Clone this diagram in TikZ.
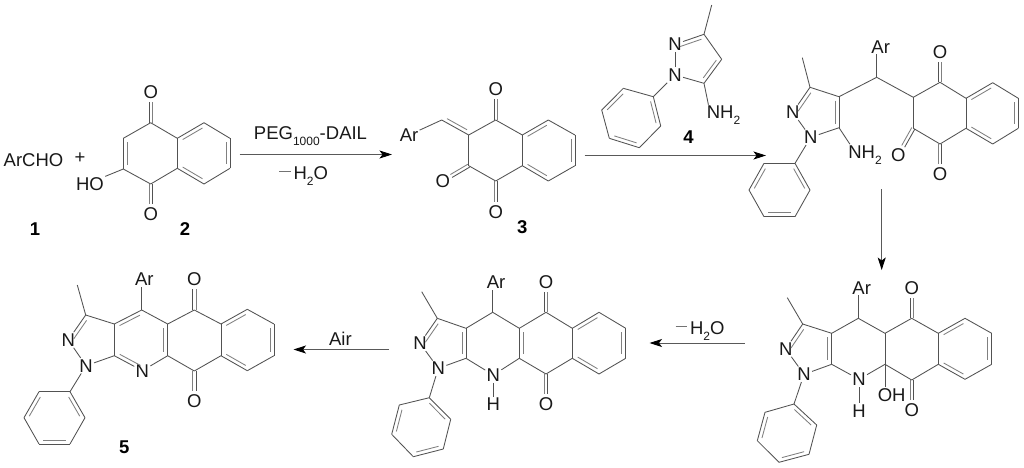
\documentclass[tikz,border=0pt]{standalone}
\usepackage{fontspec}
\setmainfont{Liberation Sans}
\usetikzlibrary{calc,arrows.meta}
\tikzset{
  bond/.style={line width=0.85pt,draw=black!68},
  inbond/.style={line width=0.85pt,draw=black!50},
  atom/.style={inner sep=1.2pt,text=black!90,font=\fontsize{18.5}{21}\selectfont},
  cpd/.style={inner sep=1pt,font=\fontsize{18.5}{21}\selectfont\bfseries},
  lbl/.style={inner sep=0pt,text=black!90,font=\fontsize{18.5}{21}\selectfont},
  rxn/.style={line width=0.85pt,draw=black!65,-{Stealth[length=12.5pt,width=8pt,inset=3pt,color=black]}}
}
\newcommand{\Sb}[1]{\raisebox{-0.33em}{\fontsize{12}{13}\selectfont #1}}
\newcommand{\Mn}{\textcolor{black!55}{\rule[0.42em]{11.5pt}{0.7pt}}\hspace{3pt}}
% atom without label / with label
\newcommand{\A}[3]{\coordinate (#1) at (#2,#3);}
\newcommand{\T}[4]{\node[atom] (#1) at (#2,#3) {#4};}
% single bonds
\newcommand{\B}[1]{\foreach \u/\v in {#1} {\draw[bond] (\u) -- (\v);}}
% inner line of a double bond a-b, on the side of c
\newcommand{\Inn}[3]{%
  \path ($(#1)!.13!(#2)$) coordinate (pp) ($(#1)!.87!(#2)$) coordinate (qq)
        ($(#1)!(#3)!(#2)$) coordinate (pr);
  \path ($(pr)!3.8pt!(#3)$) coordinate (off);
  \draw[inbond] ($(pp)+(off)-(pr)$) -- ($(qq)+(off)-(pr)$);}
% symmetric double bond C=O, from atom to label
\newcommand{\CO}[2]{%
  \path ($(#1)!1.7pt!90:(#2)$) coordinate (pp) ($(#1)!1.7pt!-90:(#2)$) coordinate (qq);
  \draw[bond,shorten >=10pt] (pp) -- ($(pp)+(#2)-(#1)$);
  \draw[inbond,shorten >=10pt] (qq) -- ($(qq)+(#2)-(#1)$);}
\begin{document}
\begin{tikzpicture}[x=1pt,y=-1pt]
\useasboundingbox (0,0) rectangle (1024,467);
\fill[white] (0,0) rectangle (1024,467);

% ---------- 1 and 2
\node[lbl] (archo) at (33.5,160.5) {ArCHO};
\node[lbl] (plus) at (80,158.5) {+};
\node[cpd] (c1) at (35,229.5) {1};
\node[cpd] (c2) at (185,229.5) {2};
\A{a1}{150.7}{122.7}\A{a2}{177.3}{138.3}\A{a3}{177.3}{168.3}\A{a4}{150.7}{184}\A{a5}{123.3}{169}\A{a6}{123.3}{138.3}
\A{a7}{204}{122.7}\A{a8}{230}{138.3}\A{a9}{230}{168.3}\A{a10}{204}{184}
\T{ao1}{150.7}{92.3}{O}\T{ao2}{150.7}{214.3}{O}\T{aho}{90}{184.3}{HO}
\B{a1/a2,a2/a3,a3/a4,a4/a5,a5/a6,a6/a1,a2/a7,a7/a8,a8/a9,a9/a10,a10/a3}
\draw[bond] (a5) -- (aho.north east);
\Inn{a5}{a6}{a2}\Inn{a2}{a7}{a9}\Inn{a8}{a9}{a2}\Inn{a10}{a3}{a8}
\CO{a1}{ao1}\CO{a4}{ao2}

% ---------- 3
\A{b1}{495.7}{120}\A{b2}{522.3}{135}\A{b3}{522.3}{165.7}\A{b4}{495.7}{181}\A{b5}{468.7}{165.7}\A{b6}{468.7}{135}
\A{b7}{548.3}{120}\A{b8}{575}{135}\A{b9}{575}{165.7}\A{b10}{548.3}{181}\A{bch}{441.7}{120}
\A{bup}{460}{100}
\T{bar}{409}{135}{Ar}\T{bo1}{495.7}{89.3}{O}\T{bo2}{495.7}{211.7}{O}\T{bo3}{442.7}{181}{O}
\node[cpd] (c3) at (522.3,227.5) {3};
\B{b1/b2,b2/b3,b3/b4,b4/b5,b5/b6,b6/b1,b2/b7,b7/b8,b8/b9,b9/b10,b10/b3,b6/bch,bch/bar}
\Inn{b6}{bch}{bup}\Inn{b2}{b7}{b9}\Inn{b8}{b9}{b2}\Inn{b10}{b3}{b8}
\CO{b1}{bo1}\CO{b4}{bo2}\CO{b5}{bo3}

% ---------- 4
\A{d1}{711.7}{5}\A{d3}{704}{34.3}\A{d4}{721.7}{59.3}\A{d5}{704}{83.3}
\T{dn1}{675}{75}{N}\T{dn2}{675}{44.3}{N}
\node[atom] (dnh) at (723.5,115.5) {NH\Sb{2}};
\A{dp1}{653.3}{96.7}\A{dp2}{623.3}{88.3}\A{dp3}{601.7}{110}\A{dp4}{609.3}{138.3}\A{dp5}{639.3}{147.7}\A{dp6}{660.7}{126}
\node[cpd] (c4) at (688.5,136.7) {4};
\B{d1/d3,d3/d4,d4/d5,d5/dn1,dn1/dn2,dn2/d3,dn1/dp1,dp1/dp2,dp2/dp3,dp3/dp4,dp4/dp5,dp5/dp6,dp6/dp1}
\draw[bond] (d5) -- ([xshift=3pt]dnh.north west);
\Inn{dn2}{d3}{d4}\Inn{d4}{d5}{d3}\Inn{dp2}{dp3}{dp5}\Inn{dp4}{dp5}{dp2}\Inn{dp6}{dp1}{dp3}

% ---------- adduct (top right)
\A{e1}{802.3}{57.7}\A{e3}{810}{87.3}\A{e4}{839}{96.7}\A{e5}{839}{127.7}\T{en1}{810.7}{137.3}{N}\T{en2}{792.7}{112.3}{N}
\node[atom] (enh) at (865,155) {NH\Sb{2}};
\A{ech}{876.7}{77.3}\T{ear}{880.7}{46.7}{Ar}
\A{f1}{913.3}{97.3}\A{f2}{940}{82.3}\A{f3}{966}{98.3}\A{f4}{966}{128.3}\A{f5}{940}{144}\A{f6}{913.3}{128.3}
\A{f7}{992.7}{82.7}\A{f8}{1018.3}{98.3}\A{f9}{1018.3}{128.3}\A{f10}{992.7}{144}
\T{eo1}{940}{52.3}{O}\T{eo2}{940}{174.3}{O}\T{eo3}{898.3}{155}{O}
\A{ep1}{795}{163.3}\A{ep2}{764}{163.3}\A{ep3}{749}{190}\A{ep4}{764}{216.7}\A{ep5}{795}{216.7}\A{ep6}{810}{190}
\B{e1/e3,e3/e4,e4/e5,e5/en1,en1/en2,en2/e3,en1/ep1,ep1/ep2,ep2/ep3,ep3/ep4,ep4/ep5,ep5/ep6,ep6/ep1,e4/ech,ech/f1,f1/f2,f2/f3,f3/f4,f4/f5,f5/f6,f6/f1,f3/f7,f7/f8,f8/f9,f9/f10,f10/f4}
\draw[bond] (e5) -- ([xshift=3pt]enh.north west);
\draw[bond] (ech) -- (ech |- ear.south);
\Inn{en2}{e3}{e4}\Inn{e4}{e5}{e3}\Inn{ep2}{ep3}{ep5}\Inn{ep4}{ep5}{ep2}\Inn{ep6}{ep1}{ep3}
\Inn{f3}{f7}{f9}\Inn{f8}{f9}{f3}\Inn{f10}{f4}{f8}
\CO{f2}{eo1}\CO{f5}{eo2}\CO{f6}{eo3}

% ---------- hydroxy intermediate (bottom right)
\A{g1}{787.3}{297.7}\A{g3}{802.7}{324}\A{g3a}{831.7}{333.3}\A{g7a}{831.7}{364.3}\T{gn1}{804}{374.3}{N}\T{gn2}{785.7}{349}{N}
\T{gnh}{859}{379.3}{N}\T{gh}{859}{410.7}{H}\A{g4}{858.3}{318.3}\T{gar}{861.7}{287.7}{Ar}
\A{g4a}{885}{333.3}\A{g8a}{885}{364.3}\A{g5}{911.7}{318.3}\T{go1}{911.7}{287.7}{O}\A{g8}{911.7}{380}\T{go2}{911.7}{410}{O}
\T{goh}{891.7}{395}{OH}
\A{gj1}{938.3}{333.3}\A{gj2}{938.3}{364.3}\A{gb1}{965}{318.3}\A{gb2}{991.7}{333.3}\A{gb3}{991.7}{364.3}\A{gb4}{965}{379.3}
\A{gp1}{794}{404}\A{gp2}{765}{412.3}\A{gp3}{757.3}{440.7}\A{gp4}{779}{462.3}\A{gp5}{809}{454.3}\A{gp6}{816.7}{425}
\B{g1/g3,g3/g3a,g3a/g7a,g7a/gn1,gn1/gn2,gn2/g3,gn1/gp1,gp1/gp2,gp2/gp3,gp3/gp4,gp4/gp5,gp5/gp6,gp6/gp1,g3a/g4,g4/g4a,g4a/g8a,g8a/gnh,gnh/g7a,gnh/gh,g4a/g5,g5/gj1,gj1/gj2,gj2/g8,g8/g8a,gj1/gb1,gb1/gb2,gb2/gb3,gb3/gb4,gb4/gj2}
\draw[bond] (g4) -- (g4 |- gar.south);
\draw[bond] (g8a) -- (g8a |- goh.north);
\Inn{gn2}{g3}{g3a}\Inn{g3a}{g7a}{g3}\Inn{gp2}{gp3}{gp5}\Inn{gp4}{gp5}{gp2}\Inn{gp6}{gp1}{gp3}
\Inn{gj1}{gb1}{gb3}\Inn{gb2}{gb3}{gj1}\Inn{gb4}{gj2}{gb2}
\CO{g5}{go1}\CO{g8}{go2}

% ---------- dihydro intermediate (bottom middle)
\A{h1}{421.7}{291.7}\A{h3}{437.3}{318.3}\A{h3a}{466}{328.3}\A{h7a}{466}{358.3}\T{hn1}{438.3}{368.3}{N}\T{hn2}{420}{343.3}{N}
\T{hnh}{493.3}{375}{N}\T{hh}{493.3}{404.3}{H}\A{h4}{492.7}{312.3}\T{har}{496}{282.3}{Ar}
\A{h4a}{519.3}{328.3}\A{h8a}{519.3}{358.3}\A{h5}{546}{312.3}\T{ho1}{546}{282.3}{O}\A{h8}{546}{374}\T{ho2}{546}{404.3}{O}
\A{hj1}{572.3}{328.3}\A{hj2}{572.3}{358.3}\A{hb1}{599}{312.3}\A{hb2}{625.7}{328.3}\A{hb3}{625.7}{358.3}\A{hb4}{599}{374}
\A{hp1}{429.3}{397.7}\A{hp2}{399.3}{405}\A{hp3}{391.7}{434.3}\A{hp4}{413.3}{456.7}\A{hp5}{443.3}{449}\A{hp6}{450.7}{419.3}
\B{h1/h3,h3/h3a,h3a/h7a,h7a/hn1,hn1/hn2,hn2/h3,hn1/hp1,hp1/hp2,hp2/hp3,hp3/hp4,hp4/hp5,hp5/hp6,hp6/hp1,h3a/h4,h4/h4a,h4a/h8a,h8a/hnh,hnh/h7a,hnh/hh,h4a/h5,h5/hj1,hj1/hj2,hj2/h8,h8/h8a,hj1/hb1,hb1/hb2,hb2/hb3,hb3/hb4,hb4/hj2}
\draw[bond] (h4) -- (h4 |- har.south);
\Inn{hn2}{h3}{h3a}\Inn{h3a}{h7a}{h3}\Inn{h4a}{h8a}{hj1}\Inn{hp2}{hp3}{hp5}\Inn{hp4}{hp5}{hp2}\Inn{hp6}{hp1}{hp3}
\Inn{hj1}{hb1}{hb3}\Inn{hb2}{hb3}{hj1}\Inn{hb4}{hj2}{hb2}
\CO{h5}{ho1}\CO{h8}{ho2}

% ---------- 5
\A{k1}{77.3}{285}\A{k3}{85.7}{315}\A{k3a}{114.3}{324}\A{k7a}{114.3}{355.7}\T{kn1}{86}{365.7}{N}\T{kn2}{68.3}{340}{N}
\T{kn7}{142.3}{370.7}{N}\A{k4}{141.7}{310}\T{kar}{144.3}{279}{Ar}
\A{k4a}{167.7}{324}\A{k8a}{167.7}{355.7}\A{k5}{194.3}{310}\T{ko1}{194.3}{279}{O}\A{k8}{194.3}{371}\T{ko2}{194.3}{401}{O}
\A{kj1}{221}{324}\A{kj2}{221}{355.7}\A{kb1}{247.3}{309.3}\A{kb2}{274}{324}\A{kb3}{274}{355.7}\A{kb4}{247.3}{370.7}
\A{kp1}{70}{391.7}\A{kp2}{39}{391.7}\A{kp3}{24}{417.7}\A{kp4}{39}{444}\A{kp5}{70}{444}\A{kp6}{85}{417.7}
\node[cpd] (c5) at (124.3,447) {5};
\B{k1/k3,k3/k3a,k3a/k7a,k7a/kn1,kn1/kn2,kn2/k3,kn1/kp1,kp1/kp2,kp2/kp3,kp3/kp4,kp4/kp5,kp5/kp6,kp6/kp1,k3a/k4,k4/k4a,k4a/k8a,k8a/kn7,kn7/k7a,k4a/k5,k5/kj1,kj1/kj2,kj2/k8,k8/k8a,kj1/kb1,kb1/kb2,kb2/kb3,kb3/kb4,kb4/kj2}
\draw[bond] (k4) -- (k4 |- kar.south);
\Inn{kn2}{k3}{k3a}\Inn{k3a}{k4}{k8a}\Inn{k7a}{kn7}{k4}\Inn{k4a}{k8a}{k3a}\Inn{kp2}{kp3}{kp5}\Inn{kp4}{kp5}{kp2}\Inn{kp6}{kp1}{kp3}
\Inn{kj1}{kb1}{kb3}\Inn{kb2}{kb3}{kj1}\Inn{kb4}{kj2}{kb2}
\CO{k5}{ko1}\CO{k8}{ko2}

% ---------- arrows and conditions
\A{r1s}{239.5}{154.5}\A{r1e}{392}{154.5}
\A{r2s}{584.5}{155.5}\A{r2e}{766}{155.5}
\A{r3s}{881.7}{189}\A{r3e}{881.7}{270}
\A{r4s}{744.5}{343}\A{r4e}{649.5}{343}
\A{r5s}{389}{349.5}\A{r5e}{293.5}{349.5}
\draw[rxn] (r1s) -- (r1e);
\draw[rxn] (r2s) -- (r2e);
\draw[rxn] (r3s) -- (r3e);
\draw[rxn] (r4s) -- (r4e);
\draw[rxn] (r5s) -- (r5e);
\node[lbl] (peg) at (310.5,136) {PEG\Sb{1000}-DAIL};
\node[lbl] (wa1) at (303.5,176) {\Mn H\Sb{2}O};
\node[lbl] (wa2) at (700,331) {\Mn H\Sb{2}O};
\node[lbl] (air) at (340.4,338.5) {Air};
\end{tikzpicture}
\end{document}
